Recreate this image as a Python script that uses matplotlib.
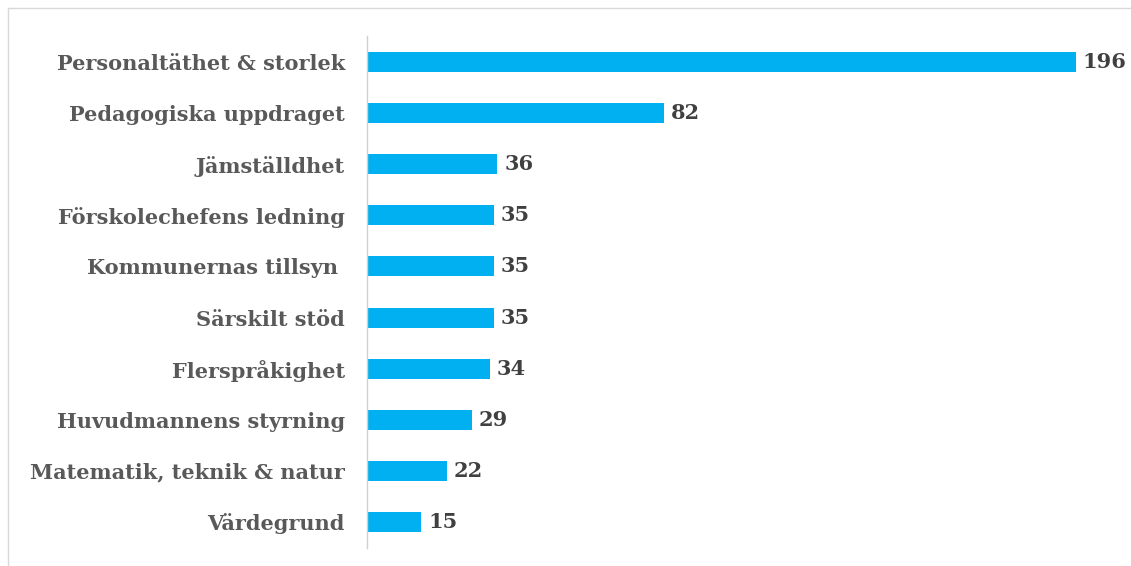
import matplotlib.pyplot as plt
from matplotlib.lines import Line2D

categories = ['Personaltäthet & storlek', 'Pedagogiska uppdraget', 'Jämställdhet',
              'Förskolechefens ledning', 'Kommunernas tillsyn ', 'Särskilt stöd',
              'Flerspråkighet', 'Huvudmannens styrning', 'Matematik, teknik & natur',
              'Värdegrund']
values = [196, 82, 36, 35, 35, 35, 34, 29, 22, 15]

bar_color = '#00B0F0'
text_color = '#595959'

fig = plt.figure(figsize=(11.31, 5.66), dpi=100)
ax = fig.add_axes([367 / 1131, 18.5 / 566, 736 / 1131, 511 / 566])

pos = list(range(len(categories)))
ax.barh(pos, values, height=0.39, color=bar_color)
ax.set_ylim(len(categories) - 0.5, -0.5)
ax.set_xlim(0, 203.5)

ax.set_yticks(pos)
ax.set_yticklabels(categories, family='DejaVu Serif', fontweight='bold',
                   fontsize=15, color=text_color)
ax.tick_params(axis='y', length=0, pad=16)
ax.set_xticks([])

for side in ['top', 'right', 'bottom']:
    ax.spines[side].set_visible(False)
ax.spines['left'].set_color('#D0D0D0')
ax.spines['left'].set_linewidth(1)

for p, v in zip(pos, values):
    ax.annotate(str(v), (v, p), xytext=(5, 0), textcoords='offset points',
                va='center', ha='left', family='DejaVu Serif', fontweight='bold',
                fontsize=15, color='#404040', annotation_clip=False)

# light frame of the chart area
fig.add_artist(Line2D([8 / 1131, 1], [1 - 8 / 566, 1 - 8 / 566],
                      transform=fig.transFigure, color='#D9D9D9', lw=1))
fig.add_artist(Line2D([8 / 1131, 8 / 1131], [0, 1 - 8 / 566],
                      transform=fig.transFigure, color='#D9D9D9', lw=1))

fig.savefig('out.png', dpi=100, facecolor='white')
